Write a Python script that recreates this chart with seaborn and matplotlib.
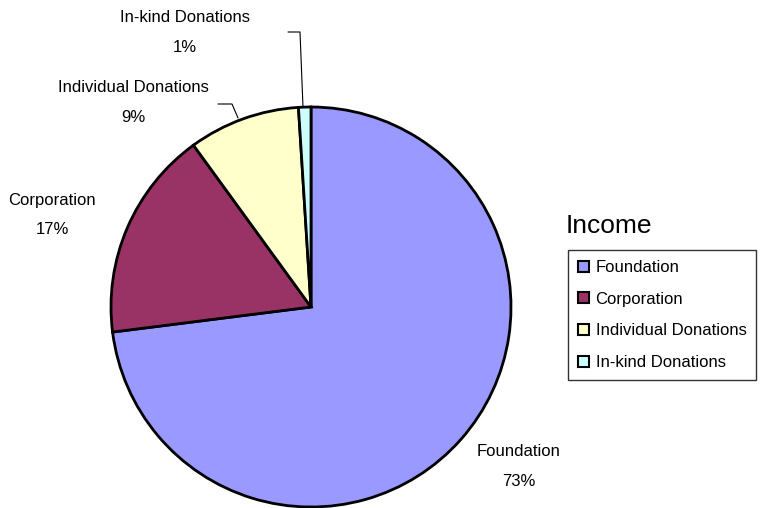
import matplotlib
matplotlib.use("Agg")
import matplotlib.pyplot as plt
import seaborn as sns
import numpy as np

categories = ["Foundation", "Corporation", "Individual Donations", "In-kind Donations"]
values = [73, 17, 9, 1]
colors = ["#9999FF", "#993366", "#FFFFCC", "#CCFFFF"]
legend_title = "Income"

sns.set_theme(style="white")
plt.rcParams['font.family'] = ['Liberation Sans', 'DejaVu Sans']
plt.rcParams['text.color'] = 'black'

W, H = 771, 508
fig = plt.figure(figsize=(W / 100, H / 100), dpi=100)
ax = fig.add_axes([0, 0, 1, 1])
ax.set_xlim(0, W)
ax.set_ylim(0, H)
ax.axis("off")

cx, cy, r = 311, H - 307, 200
wedges, _ = ax.pie(values, colors=colors, startangle=90, counterclock=False,
                   center=(cx, cy), radius=r,
                   wedgeprops=dict(edgecolor="black", linewidth=2.0))
ax.set_xlim(0, W)
ax.set_ylim(0, H)
ax.set_aspect("equal")

fs = 12
label_pos = {
    "Foundation": (519, 452),
    "Corporation": (52, 200),
    "Individual Donations": (133, 88),
    "In-kind Donations": (185, 17),
}
for cat, v in zip(categories, values):
    x, y = label_pos[cat]
    ax.text(x, H - y, cat, ha="center", va="center", fontsize=fs, color="black")
    ax.text(x, H - y - 30, f"{v}%", ha="center", va="center", fontsize=fs, color="black")

# leader lines
ax.plot([218, 232, 238], [H - 104, H - 104, H - 118], color="black", lw=0.8)
ax.plot([288, 300, 303], [H - 32, H - 32, H - 107], color="black", lw=0.8)

ax.text(566, H - 226, legend_title, ha="left", va="center", fontsize=19, color="black")
leg = ax.legend(wedges, categories, loc="upper left",
                bbox_to_anchor=(568 / W, 1 - 250 / H), bbox_transform=fig.transFigure,
                fontsize=fs, frameon=True, fancybox=False, edgecolor="black",
                handlelength=0.65, handleheight=0.65, handletextpad=0.4,
                labelspacing=1.0, borderpad=0.6, borderaxespad=0)
leg.get_frame().set_linewidth(1.0)
for t in leg.get_texts():
    t.set_color("black")
for h in leg.legend_handles:
    h.set_linewidth(1.5)

fig.savefig("out.png", dpi=100)
